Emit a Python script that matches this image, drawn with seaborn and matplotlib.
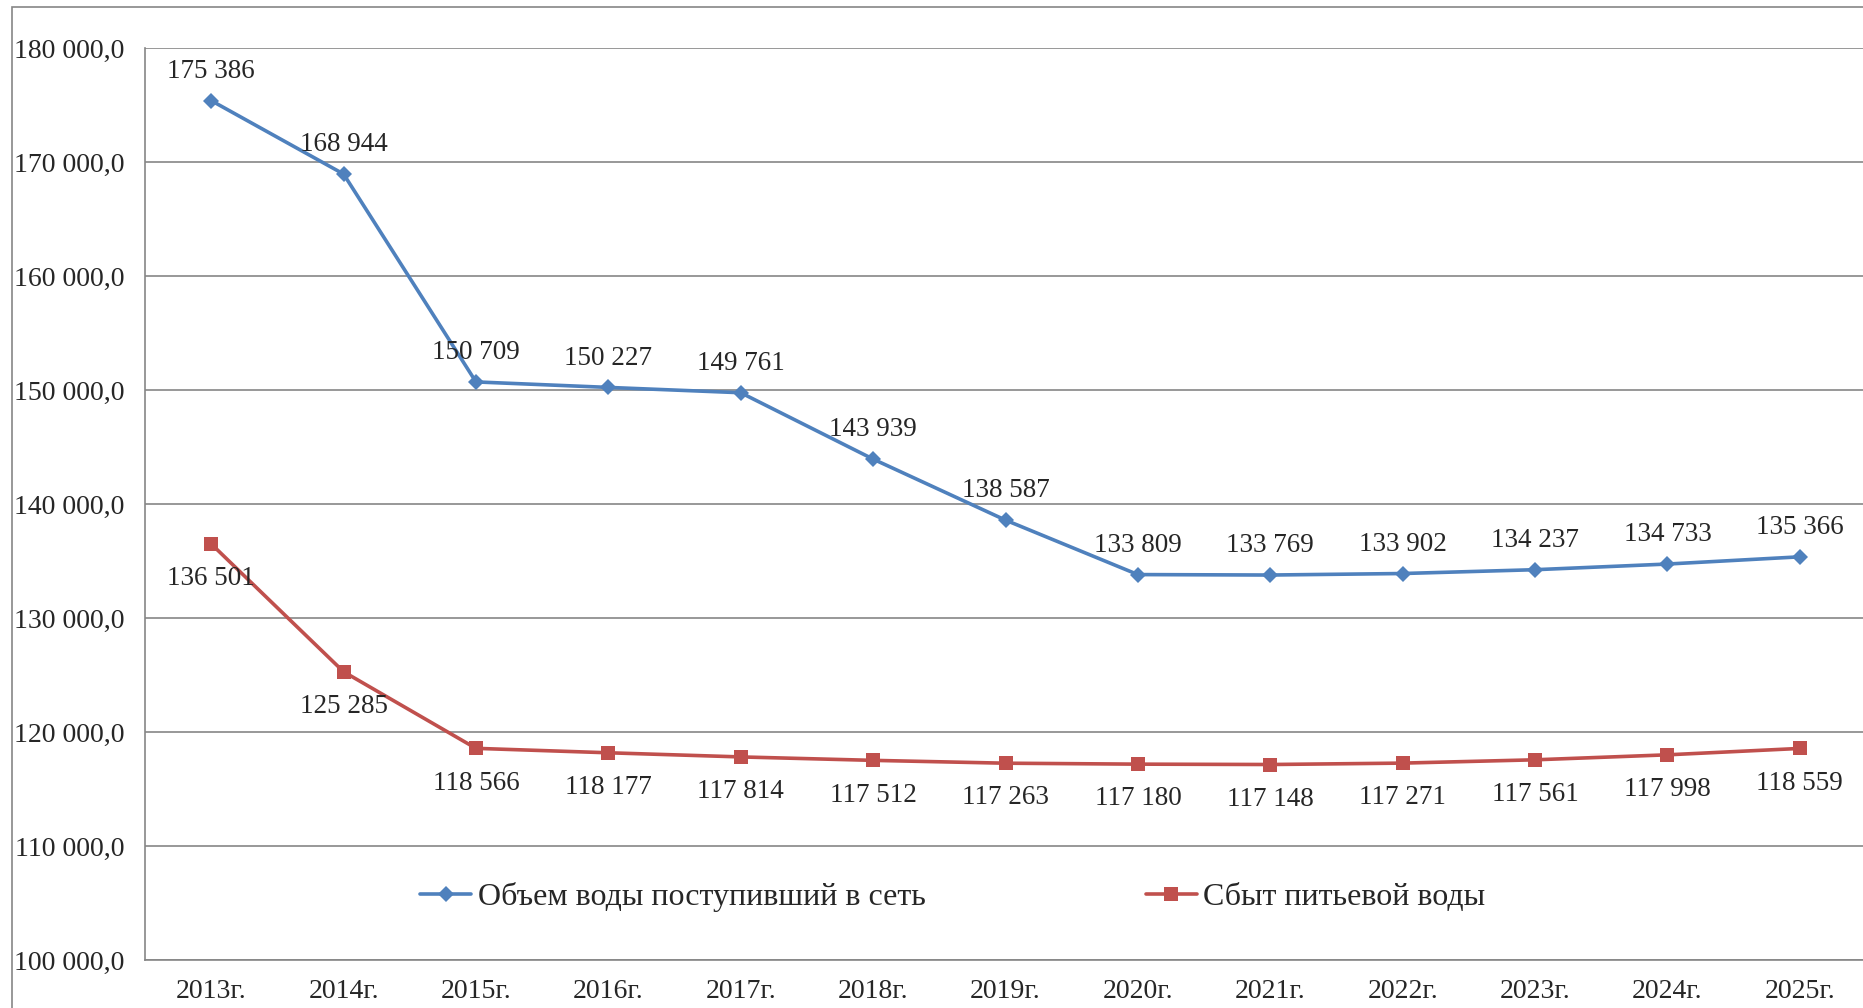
import numpy as np
import pandas as pd
import matplotlib
matplotlib.use("Agg")
import matplotlib.pyplot as plt
import seaborn as sns
from matplotlib.patches import Rectangle
from matplotlib.lines import Line2D
from matplotlib.ticker import FuncFormatter, FixedLocator

# data
years = ["2013г.", "2014г.", "2015г.", "2016г.", "2017г.", "2018г.", "2019г.",
         "2020г.", "2021г.", "2022г.", "2023г.", "2024г.", "2025г."]
supplied = [175386, 168944, 150709, 150227, 149761, 143939, 138587,
            133809, 133769, 133902, 134237, 134733, 135366]
sold = [136501, 125285, 118566, 118177, 117814, 117512, 117263,
        117180, 117148, 117271, 117561, 117998, 118559]
name_supplied = "Объем воды поступивший в сеть"
name_sold = "Сбыт питьевой воды"
y_ticks = [100000, 110000, 120000, 130000, 140000, 150000, 160000, 170000, 180000]

blue = "#4F81BD"
red = "#C0504D"
grey = "#868686"

sns.set_style("white")
plt.rcParams["font.family"] = ["Liberation Serif", "DejaVu Serif"]
plt.rcParams["font.size"] = 20

df = pd.DataFrame({"x": list(range(len(years))) * 2,
                   "value": supplied + sold,
                   "series": [name_supplied] * len(years) + [name_sold] * len(years)})

fig = plt.figure(figsize=(18.63, 10.08), dpi=100)
ax = fig.add_axes([145 / 1863, 48 / 1008, 1721 / 1863, 912 / 1008])

# outer frame of the chart
fig.patches.append(Rectangle((12 / 1863, -0.05), 1.2, 1.05 - 7 / 1008, transform=fig.transFigure,
                             fill=False, edgecolor=grey, lw=1.2, zorder=0))

sns.lineplot(data=df, x="x", y="value", hue="series", style="series",
             palette={name_supplied: blue, name_sold: red},
             markers={name_supplied: "D", name_sold: "s"},
             dashes=False, linewidth=2.6, markersize=8, markeredgewidth=0,
             ax=ax, legend=False)
for ln, ms in zip(ax.lines, [8, 10]):
    ln.set_markersize(ms)

ax.set_xlim(-0.5, len(years) - 0.5)
ax.set_ylim(100000, 180000)
ax.set_yticks(y_ticks)
ax.yaxis.set_major_formatter(FuncFormatter(lambda v, p: f"{int(v):,}".replace(",", " ") + ",0"))
ax.set_xticks(range(len(years)))
ax.set_xticklabels(years)
ax.xaxis.set_minor_locator(FixedLocator(np.arange(-0.5, len(years), 1)))
ax.tick_params(axis="x", which="major", length=0, pad=14, labelsize=20)
ax.tick_params(axis="x", which="minor", length=7, color=grey, width=1.2)
ax.tick_params(axis="y", length=7, color=grey, width=1.2, pad=8, labelsize=20)
ax.grid(axis="y", color=grey, lw=1.2)
ax.set_axisbelow(True)
for s in ["top", "right"]:
    ax.spines[s].set_visible(False)
for s in ["left", "bottom"]:
    ax.spines[s].set_color(grey)
    ax.spines[s].set_linewidth(1.2)
ax.set_xlabel("")
ax.set_ylabel("")

def fmt(v):
    return f"{v:,}".replace(",", " ")

for i, v in enumerate(supplied):
    ax.annotate(fmt(v), (i, v), xytext=(0, 21), textcoords="offset points",
                ha="center", va="center", fontsize=19.5)
for i, v in enumerate(sold):
    ax.annotate(fmt(v), (i, v), xytext=(0, -25), textcoords="offset points",
                ha="center", va="center", fontsize=19.5)

handles = [Line2D([], [], color=blue, lw=2.6, marker="D", ms=8, mew=0),
           Line2D([], [], color=red, lw=2.6, marker="s", ms=10, mew=0)]
ax.legend(handles, [name_supplied, name_sold], ncol=2, frameon=False,
          loc="center left", bbox_to_anchor=(420 / 1863, 1 - 897 / 1008),
          bbox_transform=fig.transFigure, fontsize=23, handlelength=1.6,
          handletextpad=0.2, columnspacing=6.9, borderpad=0, borderaxespad=0)

fig.savefig("out.png", dpi=100)
